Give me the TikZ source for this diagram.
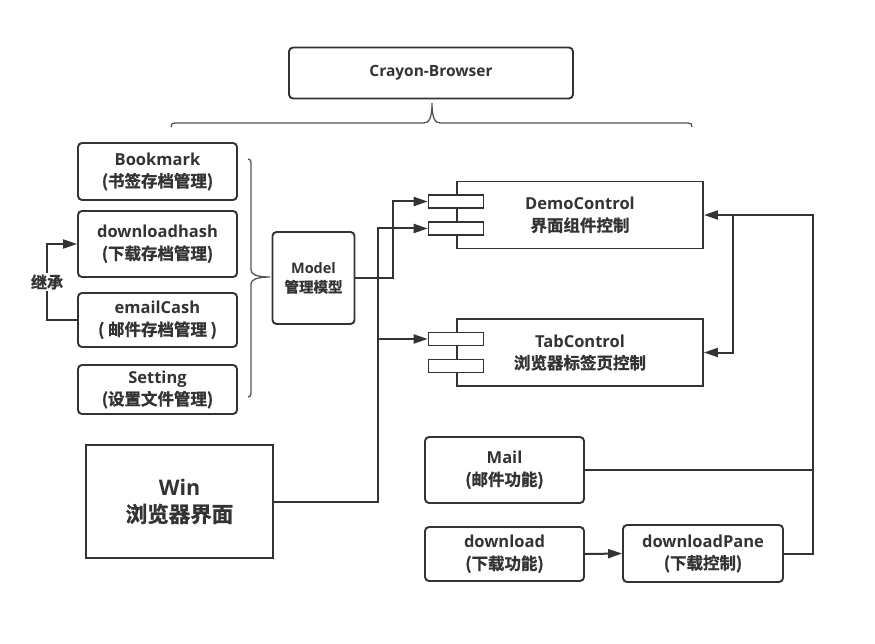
\documentclass[tikz,border=0pt]{standalone}
\usepackage{fontspec}
\setmainfont{Open Sans}
\newfontfamily\zh{Noto Sans CJK SC}[BoldFont=Noto Sans CJK SC Bold, BoldFeatures={FakeBold=1.2}]
\usepackage{tikz}
\usetikzlibrary{calc}
\usetikzlibrary{arrows.meta}
\definecolor{ink}{HTML}{333333}
\definecolor{bracec}{HTML}{555555}
\tikzset{
  box/.style={draw=ink, line width=1.9pt, rounded corners=4pt, align=center, text=ink,
    font=\bfseries\fontsize{16.5}{22}\selectfont, inner sep=0pt},
  comp/.style={box, rounded corners=0pt},
  port/.style={draw=ink, line width=1.7pt, fill=white, minimum width=55pt, minimum height=13pt, inner sep=0pt},
  link/.style={draw=ink, line width=2pt},
  arrow/.style={link, -{Triangle[length=14pt,width=9pt]}},
  brace/.style={draw=bracec, line width=1.3pt},
  tag/.style={fill=white, text=ink, inner sep=1pt, font=\bfseries\zh\fontsize{16}{20}\selectfont}
}
\newcommand{\compbox}[4]{ \node[comp, minimum width=246pt, minimum height=67pt] (#1) at ( #2 , #3 ) {#4}; \node[port] (#1p1) at ($(#1.west)+(0,-13.5)$) {}; \node[port] (#1p2) at ($(#1.west)+(0,13.5)$) {};}
\begin{document}
\begin{tikzpicture}[x=1pt, y=-1pt]
    \useasboundingbox (0,0) rectangle (875,644);
    %
    \node[box, minimum width=284pt, minimum height=51pt, font=\bfseries\fontsize{15.5}{20}\selectfont] (crayon) at (431,73) {Crayon-Browser};
    \draw[brace] (171,127) .. controls (171,124) and (172,123) .. (176,123) -- (424,123) .. controls (429,123) and (432,118) .. (432,103) .. controls (432,118) and (435,123) .. (440,123) -- (688,123) .. controls (691,123) and (692,124) .. (692,127);
    %
    \node[box, minimum width=159pt, minimum height=57pt] (bookmark) at (157.5,171.5) {Bookmark\\{\zh (书签存档管理)}};
    \node[box, minimum width=159pt, minimum height=66pt] (dlhash) at (157.5,244) {downloadhash\\{\zh (下载存档管理)}};
    \node[box, minimum width=159pt, minimum height=54pt] (email) at (157.5,320) {emailCash\\{\zh ( 邮件存档管理 )}};
    \node[box, minimum width=159pt, minimum height=49pt] (setting) at (157.5,389.5) {Setting\\{\zh (设置文件管理)}};
    \draw[brace] (248,159) .. controls (250,159) and (251,160) .. (251,164) -- (251,270) .. controls (251,274) and (256,277) .. (270,277) .. controls (256,277) and (251,280) .. (251,284) -- (251,392) .. controls (251,396) and (250,397) .. (248,397);
    \node[box, minimum width=82pt, minimum height=92pt, font=\bfseries\fontsize{14.5}{19}\selectfont] (model) at (313.5,278) {Model\\{\zh 管理模型}};
    %
    \node[comp, minimum width=187pt, minimum height=113pt, font=\bfseries\fontsize{21.5}{27}\selectfont] (win) at (179.5,501.5) {Win\\{\zh 浏览器界面}};
    %
    \compbox{demo}{580}{215}{DemoControl\\{\zh 界面组件控制}}
    \compbox{tab}{580}{352.5}{TabControl\\{\zh 浏览器标签页控制}}
    %
    \node[box, minimum width=159pt, minimum height=66pt] (mail) at (504.5,470) {Mail\\{\zh (邮件功能)}};
    \node[box, minimum width=159pt, minimum height=54pt] (dl) at (504.5,554) {download\\{\zh (下载功能)}};
    \node[box, minimum width=160pt, minimum height=57pt] (pane) at (703,553.5) {downloadPane\\{\zh (下载控制)}};
    %
    \draw[arrow] (email.west) -- ++(-30,0) |- node[tag, pos=0.25] {继承} (dlhash.west);
    \draw[arrow] (model.east) -- ++(38,0) |- (demop1.west);
    \coordinate (wbus) at (378,501.5);
    \draw[arrow] (win.east) -- (wbus) |- (demop2.west);
    \draw[arrow] (wbus |- tabp1.west) -- (tabp1.west);
    %
    \coordinate (rbus) at (813,215);
    \coordinate (tbus) at (733,215);
    \draw[arrow] (pane.east) -| (rbus) -- (demo.east);
    \draw[link] (mail.east) -- (mail.east -| rbus);
    \draw[arrow] (tbus) |- (tab.east);
    \draw[arrow] (dl.east) -- (pane.west);
\end{tikzpicture}
\end{document}
